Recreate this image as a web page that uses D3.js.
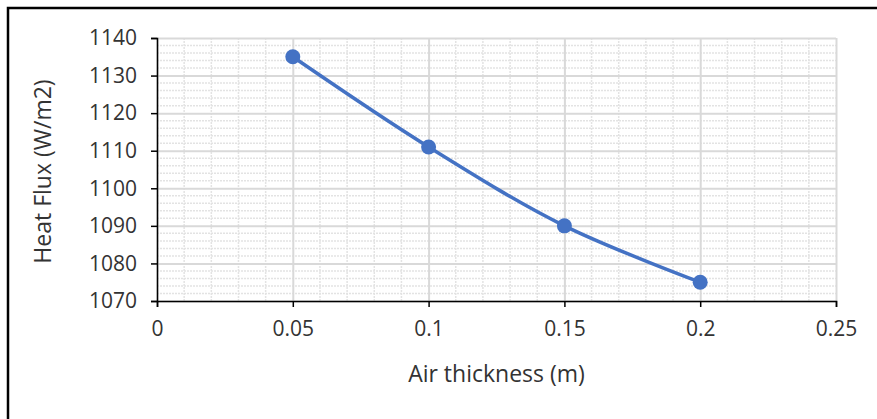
<!DOCTYPE html>
<html>
<head>
<meta charset="utf-8">
<script src="https://cdn.jsdelivr.net/npm/d3@7"></script>
<style>
  body { margin: 0; background: #fff; }
  svg text { font-family: "Open Sans", sans-serif; fill: #333; }
</style>
</head>
<body>
<div class="chart"></div>
<script>
// data
const thickness = [0.05, 0.1, 0.15, 0.2];
const heatFlux = [1135, 1111, 1090, 1075];
const xTicks = [0, 0.05, 0.1, 0.15, 0.2, 0.25];
const yTicks = [1070, 1080, 1090, 1100, 1110, 1120, 1130, 1140];

const W = 877, H = 419;
const margin = {top: 38, right: 41, bottom: 118, left: 157};
const width = W - margin.left - margin.right;
const height = H - margin.top - margin.bottom;

const svg = d3.select(".chart").append("svg")
    .attr("width", W)
    .attr("height", H);

// outer frame (cut off on right and bottom)
svg.append("rect")
    .attr("x", 8).attr("y", 8)
    .attr("width", W + 10).attr("height", H + 10)
    .attr("fill", "none")
    .attr("stroke", "#000")
    .attr("stroke-width", 2.5);

const g = svg.append("g")
    .attr("transform", `translate(${margin.left},${margin.top})`);

const x = d3.scaleLinear().domain([0, 0.25]).range([0, width]);
const y = d3.scaleLinear().domain([1070, 1140]).range([height, 0]);

// minor grid
g.append("g")
    .selectAll("line")
    .data(d3.range(1, 25).filter(i => i % 5 != 0))
    .join("line")
    .attr("x1", i => x(i / 100)).attr("x2", i => x(i / 100))
    .attr("y1", 0).attr("y2", height)
    .attr("stroke", "#e3e3e3")
    .attr("stroke-width", 1.5)
    .attr("stroke-dasharray", "2,1");

g.append("g")
    .selectAll("line")
    .data(d3.range(1072, 1140, 2).filter(v => v % 10 != 0))
    .join("line")
    .attr("x1", 0).attr("x2", width)
    .attr("y1", v => y(v)).attr("y2", v => y(v))
    .attr("stroke", "#e3e3e3")
    .attr("stroke-width", 1.5)
    .attr("stroke-dasharray", "2,1");

// major grid
g.append("g")
    .call(d3.axisBottom(x).tickValues(xTicks).tickSize(height).tickFormat(""))
    .call(s => s.select(".domain").remove())
    .selectAll("line")
    .attr("stroke", "#d9d9d9")
    .attr("stroke-width", 2);

g.append("g")
    .call(d3.axisLeft(y).tickValues(yTicks).tickSize(-width).tickFormat(""))
    .call(s => s.select(".domain").remove())
    .selectAll("line")
    .attr("stroke", "#d9d9d9")
    .attr("stroke-width", 2);

// axes
const xAxis = g.append("g")
    .attr("transform", `translate(0,${height})`)
    .call(d3.axisBottom(x).tickValues(xTicks).tickSizeOuter(0).tickSize(6).tickPadding(14)
        .tickFormat(d => String(d)));

const yAxis = g.append("g")
    .call(d3.axisLeft(y).tickValues(yTicks).tickSizeOuter(0).tickSize(6).tickPadding(14)
        .tickFormat(d => String(d)));

[xAxis, yAxis].forEach(a => {
    a.attr("font-size", null).attr("font-family", null);
    a.select(".domain").attr("stroke", "#000").attr("stroke-width", 1.5);
    a.selectAll(".tick line").attr("stroke", "#000").attr("stroke-width", 1.5);
    a.selectAll(".tick text")
        .style("font-size", "21px")
        .attr("fill", "#333");
});

// series
const line = d3.line()
    .x((d, i) => x(thickness[i]))
    .y(d => y(d))
    .curve(d3.curveCatmullRom.alpha(0.5));

g.append("path")
    .datum(heatFlux)
    .attr("fill", "none")
    .attr("stroke", "#4472c4")
    .attr("stroke-width", 3.5)
    .attr("d", line);

g.selectAll(".dot")
    .data(heatFlux)
    .join("circle")
    .attr("class", "dot")
    .attr("cx", (d, i) => x(thickness[i]))
    .attr("cy", d => y(d))
    .attr("r", 7.5)
    .attr("fill", "#4472c4");

// titles
svg.append("text")
    .attr("x", margin.left + width / 2)
    .attr("y", 382)
    .attr("text-anchor", "middle")
    .style("font-size", "23px")
    .text("Air thickness (m)");

svg.append("text")
    .attr("transform", `translate(51,${margin.top + height / 2 + 2}) rotate(-90)`)
    .attr("text-anchor", "middle")
    .style("font-size", "23px")
    .text("Heat Flux (W/m2)");
</script>
</body>
</html>
